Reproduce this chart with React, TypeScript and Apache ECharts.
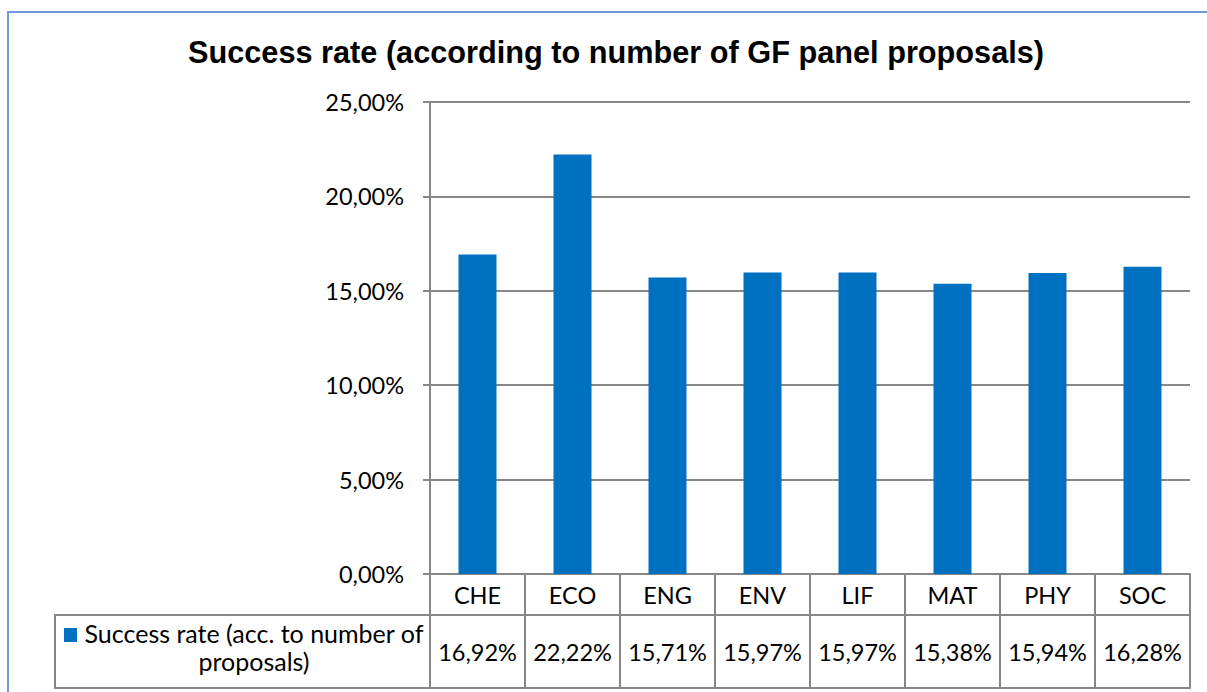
import React, { useEffect, useRef } from "react";
import * as echarts from "echarts";

const TITLE = "Success rate (according to number of GF panel proposals)";
const SERIES_NAME = "Success rate (acc. to number of proposals)";
const categories = ["CHE", "ECO", "ENG", "ENV", "LIF", "MAT", "PHY", "SOC"];
const successRate = [16.92, 22.22, 15.71, 15.97, 15.97, 15.38, 15.94, 16.28];
const yMin = 0;
const yMax = 25;
const yStep = 5;

const fmt = (v: number) => v.toFixed(2).replace(".", ",") + "%";

const GRAY = "#878787";
const BLUE = "#0070C0";
const FONT = "Lato, 'Open Sans', sans-serif";

export default function App() {
  const ref = useRef<HTMLDivElement>(null);
  useEffect(() => {
    if (!ref.current) return;
    const chart = echarts.init(ref.current, undefined, { renderer: "svg" });
    const line = { lineStyle: { color: GRAY, width: 2 } };
    chart.setOption({
      animation: false,
      backgroundColor: "#ffffff",
      title: {
        text: TITLE,
        left: 611,
        top: 32,
        textAlign: "center",
        textStyle: {
          fontFamily: "'Liberation Sans', Arial, sans-serif",
          fontWeight: "bold",
          fontSize: 30.7,
          color: "#000",
        },
      },
      grid: { left: 430, right: 17, top: 102, bottom: 118 },
      yAxis: {
        type: "value",
        min: yMin,
        max: yMax,
        interval: yStep,
        axisLine: { show: true, ...line },
        axisTick: { show: true, length: 7, ...line },
        axisLabel: {
          fontSize: 23.5,
          fontFamily: FONT,
          color: "#000",
          margin: 26,
          formatter: (v: number) => fmt(v),
        },
        splitLine: { show: true, ...line },
      },
      xAxis: [
        {
          type: "category",
          data: categories,
          position: "bottom",
          axisLine: { show: true, ...line },
          axisTick: { show: true, length: 114, interval: 0, ...line },
          axisLabel: {
            fontSize: 23.5,
            fontFamily: FONT,
            color: "#000",
            margin: 9,
            interval: 0,
          },
        },
        {
          type: "category",
          data: successRate.map(fmt),
          position: "bottom",
          offset: 41,
          axisLine: { show: true, ...line },
          axisTick: { show: false },
          axisLabel: {
            fontSize: 23.5,
            fontFamily: FONT,
            color: "#000",
            margin: 25,
            interval: 0,
          },
        },
        {
          type: "category",
          data: categories,
          position: "bottom",
          offset: 114,
          axisLine: { show: true, ...line },
          axisTick: { show: false },
          axisLabel: { show: false },
        },
      ],
      series: [
        {
          type: "bar",
          name: SERIES_NAME,
          data: successRate,
          xAxisIndex: 0,
          yAxisIndex: 0,
          barWidth: "40%",
          itemStyle: { color: BLUE },
        },
      ],
      graphic: [
        {
          type: "rect",
          shape: { x: 8, y: 12, width: 1400, height: 1000 },
          style: { fill: "none", stroke: "#6F9BD8", lineWidth: 2 },
          silent: true,
        },
        {
          type: "rect",
          shape: { x: 55, y: 615, width: 375, height: 73 },
          style: { fill: "none", stroke: GRAY, lineWidth: 2 },
          silent: true,
        },
        {
          type: "rect",
          shape: { x: 64, y: 628, width: 13, height: 14 },
          style: { fill: BLUE },
          silent: true,
        },
        {
          type: "text",
          x: 254,
          y: 619,
          style: {
            text: SERIES_NAME.replace(" of ", " of\n"),
            textAlign: "center",
            textVerticalAlign: "top",
            fontSize: 25,
            fontFamily: FONT,
            lineHeight: 28,
            fill: "#000",
          },
          silent: true,
        },
      ],
    });
    return () => chart.dispose();
  }, []);
  return (
    <div
      ref={ref}
      style={{ position: "fixed", left: 0, top: 0, width: 1207, height: 692 }}
    />
  );
}
